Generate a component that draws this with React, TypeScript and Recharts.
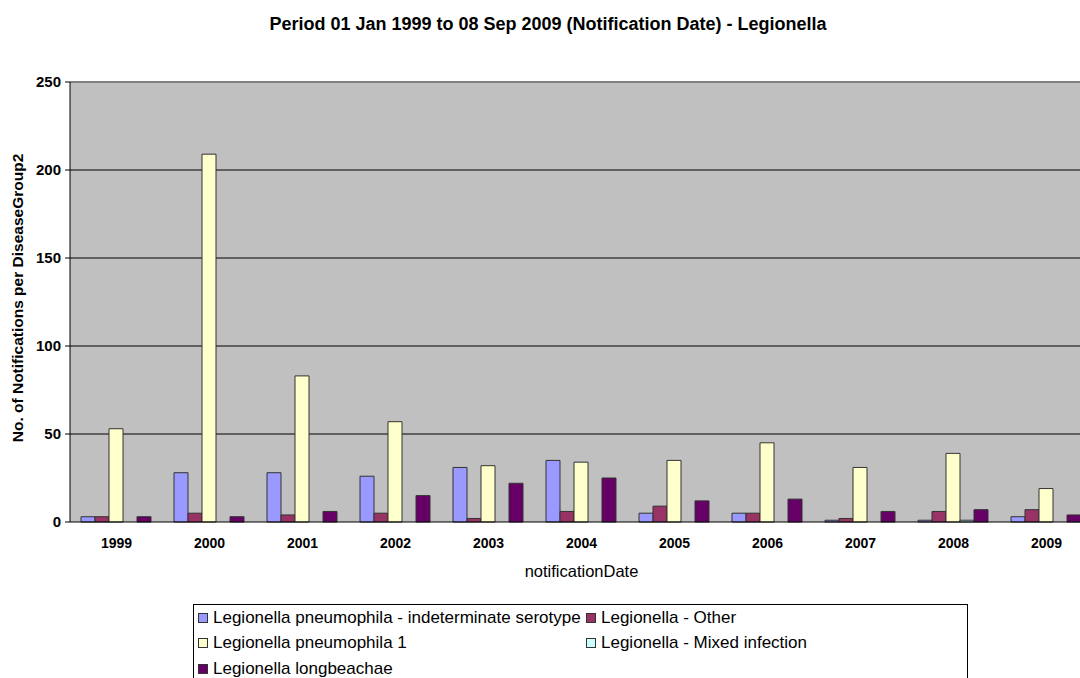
import React from "react";
import { Bar, BarChart, CartesianGrid, XAxis, YAxis, ReferenceLine } from "recharts";

const years = ["1999", "2000", "2001", "2002", "2003", "2004", "2005", "2006", "2007", "2008", "2009"];
const indeterminate = [3, 28, 28, 26, 31, 35, 5, 5, 1, 1, 3];
const other = [3, 5, 4, 5, 2, 6, 9, 5, 2, 6, 7];
const pneumophila1 = [53, 209, 83, 57, 32, 34, 35, 45, 31, 39, 19];
const mixed = [0, 0, 0, 0, 0, 0, 0, 0, 0, 1, 0];
const longbeachae = [3, 3, 6, 15, 22, 25, 12, 13, 6, 7, 4];
const yTicks = [0, 50, 100, 150, 200, 250];

const series = [
  { key: "indeterminate", name: "Legionella pneumophila - indeterminate serotype", color: "#9999FF" },
  { key: "other", name: "Legionella - Other", color: "#993366" },
  { key: "pneumophila1", name: "Legionella pneumophila 1", color: "#FFFFCC" },
  { key: "mixed", name: "Legionella - Mixed infection", color: "#CCFFFF" },
  { key: "longbeachae", name: "Legionella longbeachae", color: "#660066" },
];

const data = years.map((year, i) => ({
  year,
  indeterminate: indeterminate[i],
  other: other[i],
  pneumophila1: pneumophila1[i],
  mixed: mixed[i],
  longbeachae: longbeachae[i],
}));

const font = "'Liberation Sans', Arial, sans-serif";

function LegendBox() {
  // two columns, items flow row by row like the Excel legend
  return (
    <div
      style={{
        position: "absolute",
        left: 193,
        top: 604,
        width: 775,
        height: 100,
        border: "1px solid #000",
        boxSizing: "border-box",
        fontFamily: font,
        fontSize: 17,
        color: "#000",
        display: "grid",
        gridTemplateColumns: "388px 1fr",
        gridAutoRows: "25.5px",
        paddingTop: 0,
        paddingLeft: 4,
      }}
    >
      {series.map((s) => (
        <div key={s.key} style={{ display: "flex", alignItems: "center", whiteSpace: "nowrap" }}>
          <span
            style={{
              display: "inline-block",
              width: 8,
              height: 8,
              background: s.color,
              border: "1px solid #333",
              marginRight: 5,
            }}
          />
          {s.name}
        </div>
      ))}
    </div>
  );
}

export default function App() {
  return (
    <div style={{ position: "fixed", left: 0, top: 0, width: 1080, height: 678, overflow: "hidden", background: "#fff" }}>
      <div
        style={{
          position: "absolute",
          left: 0,
          top: 14,
          width: 1096,
          textAlign: "center",
          fontFamily: font,
          fontWeight: "bold",
          fontSize: 18,
          color: "#000",
        }}
      >
        Period 01 Jan 1999 to 08 Sep 2009 (Notification Date) - Legionella
      </div>
      <div style={{ position: "absolute", left: 0, top: 0 }}>
        <BarChart
          width={1093}
          height={678}
          data={data}
          margin={{ top: 82, right: 0, left: 0, bottom: 126 }}
          barCategoryGap={11}
          barGap={0}
          style={{ fontFamily: font }}
        >
          <CartesianGrid
            vertical={false}
            horizontalValues={[50, 100, 150, 200]}
            stroke="#000"
            strokeWidth={1}
            fill="#C0C0C0"
            fillOpacity={1}
          />
          <ReferenceLine y={250} stroke="#808080" strokeWidth={2} />
          <XAxis
            dataKey="year"
            height={30}
            axisLine={{ stroke: "#000" }}
            tickLine={false}
            tickSize={0}
            tickMargin={16}
            tick={{ fill: "#000", fontSize: 14, fontWeight: "bold" }}
            label={{
              value: "notificationDate",
              position: "bottom",
              offset: 13,
              style: { fill: "#000", fontSize: 16.5 },
            }}
          />
          <YAxis
            width={70}
            domain={[0, 250]}
            ticks={yTicks}
            interval={0}
            axisLine={{ stroke: "#000" }}
            tickLine={{ stroke: "#000" }}
            tickSize={5}
            tickMargin={4}
            tick={{ fill: "#000", fontSize: 15, fontWeight: "bold" }}
            label={{
              value: "No. of Notifications per DiseaseGroup2",
              angle: -90,
              position: "insideLeft",
              offset: 0,
              dx: 17,
              dy: -4,
              style: { fill: "#000", fontSize: 15.5, fontWeight: "bold", textAnchor: "middle" },
            }}
          />
          {series.map((s) => (
            <Bar
              key={s.key}
              dataKey={s.key}
              name={s.name}
              fill={s.color}
              stroke="#333"
              strokeWidth={1}
              isAnimationActive={false}
            />
          ))}
        </BarChart>
      </div>
      <LegendBox />
    </div>
  );
}
